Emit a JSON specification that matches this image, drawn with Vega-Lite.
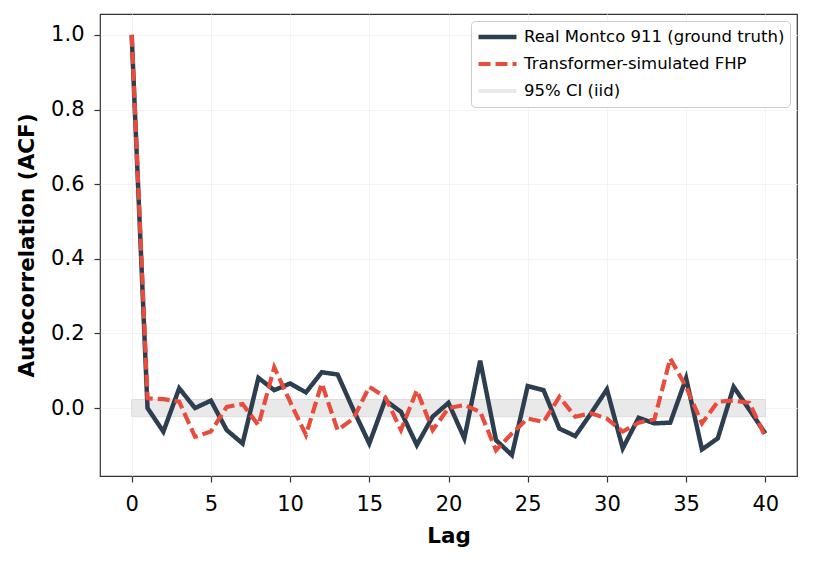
{
  "$schema": "https://vega.github.io/schema/vega-lite/v6.json",
  "width": 697,
  "height": 462,
  "autosize": "none",
  "padding": {"left": 100, "top": 14, "right": 16, "bottom": 85},
  "background": "white",
  "config": {
    "font": "DejaVu Sans",
    "view": {"stroke": "#333333", "strokeWidth": 1.2},
    "axis": {
      "domain": false,
      "grid": true,
      "gridColor": "#f3f3f3",
      "gridWidth": 1,
      "tickColor": "#333333",
      "tickSize": 6,
      "tickWidth": 1.2,
      "labelFontSize": 21,
      "labelColor": "#000000",
      "titleFontSize": 21.5,
      "titleFontWeight": "bold",
      "titleColor": "#000000"
    },
    "legend": {
      "symbolType": "stroke",
      "labelFontSize": 16.5,
      "labelColor": "#000000",
      "labelLimit": 400,
      "symbolSize": 1444,
      "clipHeight": 22,
      "rowPadding": 5,
      "labelOffset": 5,
      "padding": 5,
      "strokeColor": "#cccccc",
      "cornerRadius": 4,
      "fillColor": "white",
      "offset": 7
    }
  },
  "datasets": {
    "acf": [
      {"lag": 0, "acf": 1.0, "series": "Real Montco 911 (ground truth)"},
      {"lag": 1, "acf": 0.0, "series": "Real Montco 911 (ground truth)"},
      {"lag": 2, "acf": -0.063, "series": "Real Montco 911 (ground truth)"},
      {"lag": 3, "acf": 0.053, "series": "Real Montco 911 (ground truth)"},
      {"lag": 4, "acf": 0.0, "series": "Real Montco 911 (ground truth)"},
      {"lag": 5, "acf": 0.02, "series": "Real Montco 911 (ground truth)"},
      {"lag": 6, "acf": -0.059, "series": "Real Montco 911 (ground truth)"},
      {"lag": 7, "acf": -0.095, "series": "Real Montco 911 (ground truth)"},
      {"lag": 8, "acf": 0.081, "series": "Real Montco 911 (ground truth)"},
      {"lag": 9, "acf": 0.048, "series": "Real Montco 911 (ground truth)"},
      {"lag": 10, "acf": 0.066, "series": "Real Montco 911 (ground truth)"},
      {"lag": 11, "acf": 0.042, "series": "Real Montco 911 (ground truth)"},
      {"lag": 12, "acf": 0.096, "series": "Real Montco 911 (ground truth)"},
      {"lag": 13, "acf": 0.09, "series": "Real Montco 911 (ground truth)"},
      {"lag": 14, "acf": -0.005, "series": "Real Montco 911 (ground truth)"},
      {"lag": 15, "acf": -0.095, "series": "Real Montco 911 (ground truth)"},
      {"lag": 16, "acf": 0.021, "series": "Real Montco 911 (ground truth)"},
      {"lag": 17, "acf": -0.01, "series": "Real Montco 911 (ground truth)"},
      {"lag": 18, "acf": -0.099, "series": "Real Montco 911 (ground truth)"},
      {"lag": 19, "acf": -0.023, "series": "Real Montco 911 (ground truth)"},
      {"lag": 20, "acf": 0.014, "series": "Real Montco 911 (ground truth)"},
      {"lag": 21, "acf": -0.081, "series": "Real Montco 911 (ground truth)"},
      {"lag": 22, "acf": 0.127, "series": "Real Montco 911 (ground truth)"},
      {"lag": 23, "acf": -0.086, "series": "Real Montco 911 (ground truth)"},
      {"lag": 24, "acf": -0.126, "series": "Real Montco 911 (ground truth)"},
      {"lag": 25, "acf": 0.059, "series": "Real Montco 911 (ground truth)"},
      {"lag": 26, "acf": 0.048, "series": "Real Montco 911 (ground truth)"},
      {"lag": 27, "acf": -0.055, "series": "Real Montco 911 (ground truth)"},
      {"lag": 28, "acf": -0.075, "series": "Real Montco 911 (ground truth)"},
      {"lag": 29, "acf": -0.014, "series": "Real Montco 911 (ground truth)"},
      {"lag": 30, "acf": 0.05, "series": "Real Montco 911 (ground truth)"},
      {"lag": 31, "acf": -0.108, "series": "Real Montco 911 (ground truth)"},
      {"lag": 32, "acf": -0.026, "series": "Real Montco 911 (ground truth)"},
      {"lag": 33, "acf": -0.041, "series": "Real Montco 911 (ground truth)"},
      {"lag": 34, "acf": -0.039, "series": "Real Montco 911 (ground truth)"},
      {"lag": 35, "acf": 0.08, "series": "Real Montco 911 (ground truth)"},
      {"lag": 36, "acf": -0.111, "series": "Real Montco 911 (ground truth)"},
      {"lag": 37, "acf": -0.081, "series": "Real Montco 911 (ground truth)"},
      {"lag": 38, "acf": 0.057, "series": "Real Montco 911 (ground truth)"},
      {"lag": 39, "acf": -0.005, "series": "Real Montco 911 (ground truth)"},
      {"lag": 40, "acf": -0.068, "series": "Real Montco 911 (ground truth)"},
      {"lag": 0, "acf": 1.0, "series": "Transformer-simulated FHP"},
      {"lag": 1, "acf": 0.026, "series": "Transformer-simulated FHP"},
      {"lag": 2, "acf": 0.024, "series": "Transformer-simulated FHP"},
      {"lag": 3, "acf": 0.017, "series": "Transformer-simulated FHP"},
      {"lag": 4, "acf": -0.077, "series": "Transformer-simulated FHP"},
      {"lag": 5, "acf": -0.063, "series": "Transformer-simulated FHP"},
      {"lag": 6, "acf": 0.003, "series": "Transformer-simulated FHP"},
      {"lag": 7, "acf": 0.011, "series": "Transformer-simulated FHP"},
      {"lag": 8, "acf": -0.046, "series": "Transformer-simulated FHP"},
      {"lag": 9, "acf": 0.109, "series": "Transformer-simulated FHP"},
      {"lag": 10, "acf": 0.017, "series": "Transformer-simulated FHP"},
      {"lag": 11, "acf": -0.072, "series": "Transformer-simulated FHP"},
      {"lag": 12, "acf": 0.066, "series": "Transformer-simulated FHP"},
      {"lag": 13, "acf": -0.059, "series": "Transformer-simulated FHP"},
      {"lag": 14, "acf": -0.028, "series": "Transformer-simulated FHP"},
      {"lag": 15, "acf": 0.057, "series": "Transformer-simulated FHP"},
      {"lag": 16, "acf": 0.03, "series": "Transformer-simulated FHP"},
      {"lag": 17, "acf": -0.059, "series": "Transformer-simulated FHP"},
      {"lag": 18, "acf": 0.048, "series": "Transformer-simulated FHP"},
      {"lag": 19, "acf": -0.059, "series": "Transformer-simulated FHP"},
      {"lag": 20, "acf": 0.0, "series": "Transformer-simulated FHP"},
      {"lag": 21, "acf": 0.008, "series": "Transformer-simulated FHP"},
      {"lag": 22, "acf": -0.01, "series": "Transformer-simulated FHP"},
      {"lag": 23, "acf": -0.113, "series": "Transformer-simulated FHP"},
      {"lag": 24, "acf": -0.068, "series": "Transformer-simulated FHP"},
      {"lag": 25, "acf": -0.028, "series": "Transformer-simulated FHP"},
      {"lag": 26, "acf": -0.037, "series": "Transformer-simulated FHP"},
      {"lag": 27, "acf": 0.03, "series": "Transformer-simulated FHP"},
      {"lag": 28, "acf": -0.023, "series": "Transformer-simulated FHP"},
      {"lag": 29, "acf": -0.014, "series": "Transformer-simulated FHP"},
      {"lag": 30, "acf": -0.028, "series": "Transformer-simulated FHP"},
      {"lag": 31, "acf": -0.063, "series": "Transformer-simulated FHP"},
      {"lag": 32, "acf": -0.039, "series": "Transformer-simulated FHP"},
      {"lag": 33, "acf": -0.03, "series": "Transformer-simulated FHP"},
      {"lag": 34, "acf": 0.133, "series": "Transformer-simulated FHP"},
      {"lag": 35, "acf": 0.057, "series": "Transformer-simulated FHP"},
      {"lag": 36, "acf": -0.041, "series": "Transformer-simulated FHP"},
      {"lag": 37, "acf": 0.017, "series": "Transformer-simulated FHP"},
      {"lag": 38, "acf": 0.02, "series": "Transformer-simulated FHP"},
      {"lag": 39, "acf": 0.014, "series": "Transformer-simulated FHP"},
      {"lag": 40, "acf": -0.077, "series": "Transformer-simulated FHP"}
    ],
    "ci": [
      {"lag_start": 0, "lag_end": 40, "lo": -0.023, "hi": 0.023, "series": "95% CI (iid)"}
    ]
  },
  "layer": [
    {
      "data": {"name": "ci"},
      "mark": {"type": "rect", "stroke": "#dddddd", "strokeWidth": 1},
      "encoding": {
        "x": {"field": "lag_start", "type": "quantitative"},
        "x2": {"field": "lag_end"},
        "y": {"field": "lo", "type": "quantitative"},
        "y2": {"field": "hi"},
        "color": {"field": "series", "type": "nominal"}
      }
    },
    {
      "mark": {"type": "rule", "color": "#000000", "strokeWidth": 1.5},
      "encoding": {"y": {"datum": 0}}
    },
    {
      "data": {"name": "acf"},
      "mark": {"type": "line", "strokeCap": "butt", "strokeJoin": "miter"},
      "encoding": {
        "x": {
          "field": "lag",
          "type": "quantitative",
          "title": "Lag",
          "scale": {"domain": [-2, 42], "nice": false, "zero": false},
          "axis": {"values": [0, 5, 10, 15, 20, 25, 30, 35, 40], "labelPadding": 11, "titlePadding": 11}
        },
        "y": {
          "field": "acf",
          "type": "quantitative",
          "title": "Autocorrelation (ACF)",
          "scale": {"domain": [-0.182, 1.056], "nice": false, "zero": false},
          "axis": {"values": [0, 0.2, 0.4, 0.6, 0.8, 1.0], "format": ".1f", "labelPadding": 10, "titlePadding": 12}
        },
        "color": {
          "field": "series",
          "type": "nominal",
          "title": null,
          "scale": {
            "domain": ["Real Montco 911 (ground truth)", "Transformer-simulated FHP", "95% CI (iid)"],
            "range": ["#2c3e50", "#e74c3c", "#e9e9e9"]
          },
          "legend": {"orient": "top-right"}
        },
        "strokeDash": {
          "field": "series",
          "type": "nominal",
          "title": null,
          "scale": {
            "domain": ["Real Montco 911 (ground truth)", "Transformer-simulated FHP", "95% CI (iid)"],
            "range": [[1, 0], [12, 5], [1, 0]]
          },
          "legend": {"orient": "top-right"}
        },
        "strokeWidth": {
          "field": "series",
          "type": "nominal",
          "title": null,
          "scale": {
            "domain": ["Real Montco 911 (ground truth)", "Transformer-simulated FHP", "95% CI (iid)"],
            "range": [4.5, 3.8, 12]
          },
          "legend": {"orient": "top-right"}
        },
        "order": {"field": "lag"}
      }
    }
  ]
}
